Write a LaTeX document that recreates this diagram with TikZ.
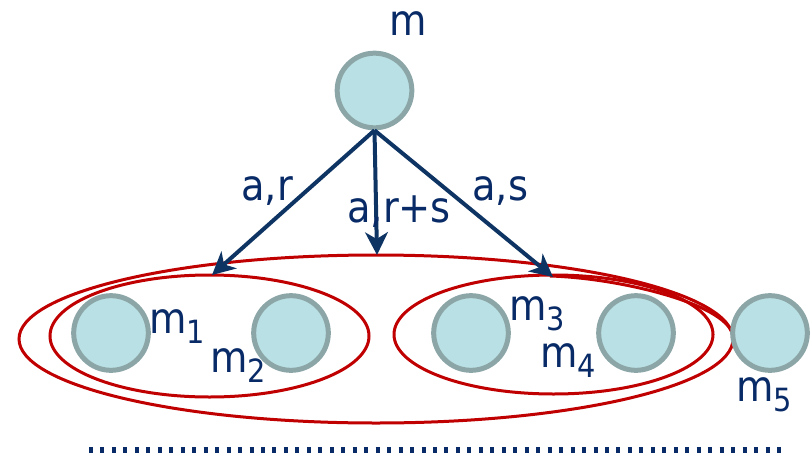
\documentclass[tikz,border=0pt]{standalone}
\usepackage{fontspec}
\setmainfont{DejaVu Sans}[FakeStretch=0.9]
\usetikzlibrary{arrows.meta}
\definecolor{navy}{RGB}{8,42,102}
\definecolor{arrowblue}{RGB}{14,52,100}
\definecolor{cfill}{RGB}{185,224,228}
\definecolor{cedge}{RGB}{140,166,168}
\definecolor{ered}{RGB}{192,0,0}
\newcommand\msub[2]{#1\raisebox{-8.2pt}{\fontsize{24}{24}\selectfont #2}}
\tikzset{
  state/.style={circle, draw=cedge, fill=cfill, line width=3.75pt, minimum size=56pt, inner sep=0pt},
  lbl/.style={text=navy, font=\fontsize{32}{32}\selectfont, inner sep=0pt, anchor=base west},
  arr/.style={draw=arrowblue, line width=3pt, -{Stealth[length=17pt,width=17pt,inset=5pt]}},
  grp/.style={draw=ered, line width=2.25pt},
  dots/.style={draw=navy, line width=4pt, dash pattern=on 3pt off 5.6pt}
}
\begin{document}
\begin{tikzpicture}[x=0.75pt,y=-0.75pt]
\useasboundingbox (0,0) rectangle (812,456);
% groups
\draw[grp] (376,339) ellipse [x radius=357, y radius=84];
\draw[grp] (209.5,336) ellipse [x radius=159.5, y radius=61];
\draw[grp] (553.5,334.5) ellipse [x radius=159.5, y radius=59.5];
\draw[grp] (550,276) .. controls (620,278) and (733,305) .. (733,338);
% states
\node[state] (m) at (374.5,90.5) {};
\node[state] (m1) at (111,333) {};
\node[state] (m2) at (291,333) {};
\node[state] (m3) at (471,333) {};
\node[state] (m4) at (636,333) {};
\node[state] (m5) at (770,333) {};
% labels
\node[lbl] (lm) at (389,36) {m};
\node[lbl] (l1) at (149,333) {\msub{m}{1}};
\node[lbl] (l2) at (210,372) {\msub{m}{2}};
\node[lbl] (l3) at (509,320) {\msub{m}{3}};
\node[lbl] (l4) at (540,367) {\msub{m}{4}};
\node[lbl] (l5) at (736,401) {\msub{m}{5}};
% arrows
\coordinate (tL) at (212,275);
\coordinate (tM) at (377,255);
\coordinate (tR) at (553,277);
\draw[arr] (m.south) -- (tL);
\draw[arr] (m.south) -- (tM);
\draw[arr] (m.south) -- (tR);
\node[lbl] (ear) at (241,200) {a,r};
\node[lbl] (ears) at (347,222) {a,r+s};
\node[lbl] (eas) at (472,200) {a,s};
% dotted line
\coordinate (d0) at (89,450);
\coordinate (d1) at (784,450);
\draw[dots] (d0) -- (d1);
\end{tikzpicture}
\end{document}
